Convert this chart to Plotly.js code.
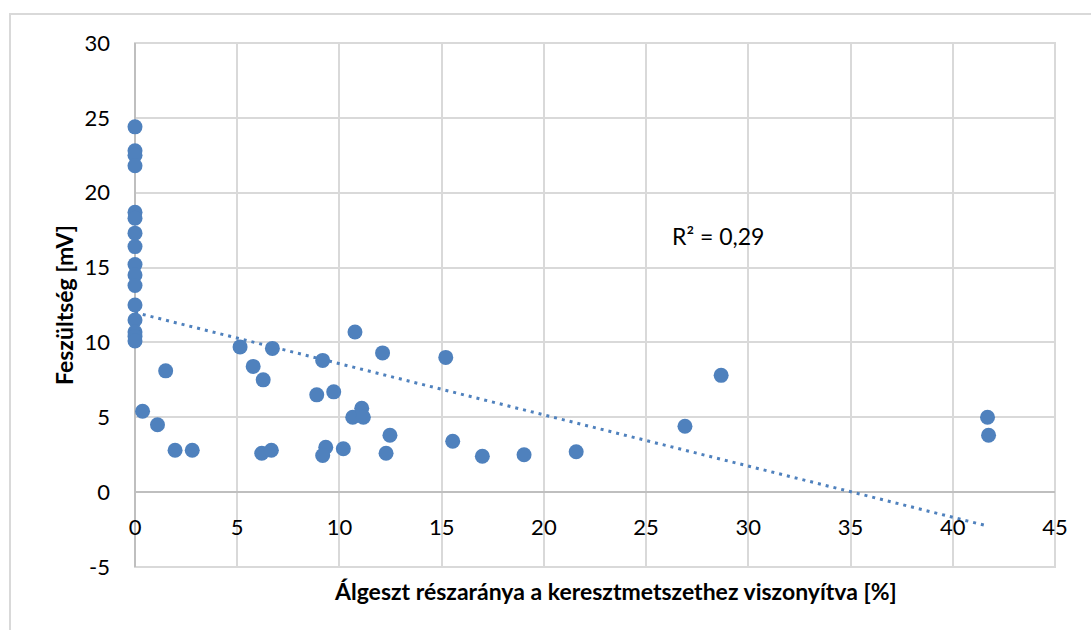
<!DOCTYPE html>
<html>
<head>
<meta charset="utf-8">
<script src="https://cdn.plot.ly/plotly-3.0.1.min.js"></script>
<style>
  html, body { margin: 0; padding: 0; background: #ffffff; }
  #wrap { position: relative; width: 1091px; height: 630px; overflow: hidden; }
  #frame { position: absolute; left: 9px; top: 13px; width: 1100px; height: 640px;
           border-left: 2px solid #d9d9d9; border-top: 2px solid #d9d9d9; pointer-events: none; }
  #chart { position: absolute; left: 0; top: 0; width: 1091px; height: 630px; }
</style>
</head>
<body>
<div id="wrap">
  <div id="chart"></div>
  <div id="frame"></div>
</div>
<script>
// Data
const xValues = [
  0, 0, 0, 0, 0, 0, 0, 0, 0, 0, 0, 0, 0, 0, 0, 0,
  0.37, 1.1, 1.5, 1.96, 2.8, 5.14, 5.78, 6.27, 6.72, 6.2, 6.67,
  8.89, 9.18, 9.72, 9.33, 9.18, 10.19, 10.76, 10.65, 11.09, 11.17,
  12.11, 12.28, 12.47, 15.2, 15.54, 16.99, 19.03, 21.58, 26.9, 28.67,
  41.7, 41.75
];
const yValues = [
  24.4, 22.8, 22.5, 21.8, 18.7, 18.3, 17.3, 16.4, 15.2, 14.5, 13.8, 12.5, 11.5, 10.7, 10.4, 10.1,
  5.4, 4.5, 8.1, 2.8, 2.8, 9.7, 8.4, 7.5, 9.6, 2.6, 2.8,
  6.5, 8.8, 6.7, 3.0, 2.45, 2.9, 10.7, 5.0, 5.6, 5.0,
  9.3, 2.6, 3.8, 9.0, 3.4, 2.4, 2.5, 2.7, 4.4, 7.8,
  5.0, 3.8
];
const trendX = [0, 41.7];
const trendY = [12.0, -2.26];
const xTicks = [0, 5, 10, 15, 20, 25, 30, 35, 40, 45];
const yTicks = [-5, 0, 5, 10, 15, 20, 25, 30];
const xTitle = "Álgeszt részaránya a keresztmetszethez viszonyítva [%]";
const yTitle = "Feszültség [mV]";
const r2Label = "R² = 0,29";

const blue = "#4f81bd";
const font = "Lato, 'Open Sans', sans-serif";

const traces = [
  {
    x: trendX, y: trendY, type: "scatter", mode: "lines",
    line: { color: blue, width: 3, dash: "3px,5px" },
    hoverinfo: "skip", showlegend: false, cliponaxis: false
  },
  {
    x: xValues, y: yValues, type: "scatter", mode: "markers",
    marker: { color: blue, size: 15, line: { width: 0 } },
    hoverinfo: "skip", showlegend: false, cliponaxis: false
  }
];

const plotTop = 43, plotBottom = 567;
const zeroFrac = (plotBottom - 492) / (plotBottom - plotTop);

const layout = {
  width: 1091, height: 630,
  margin: { l: 135, r: 36, t: plotTop, b: 630 - plotBottom, pad: 0 },
  paper_bgcolor: "rgba(0,0,0,0)",
  plot_bgcolor: "#ffffff",
  font: { family: font, size: 22, color: "#000000" },
  showlegend: false,
  xaxis: {
    range: [0, 45], tickvals: xTicks, ticktext: xTicks.map(String),
    showgrid: true, gridcolor: "#d9d9d9", gridwidth: 2,
    zeroline: true, zerolinecolor: "#bfbfbf", zerolinewidth: 2,
    showline: false, ticks: "", anchor: "free", position: zeroFrac,
    ticklabelstandoff: 20,
    tickfont: { family: font, size: 22, color: "#000" },
    fixedrange: true
  },
  yaxis: {
    range: [-5, 30], tickvals: yTicks, ticktext: yTicks.map(String),
    showgrid: true, gridcolor: "#d9d9d9", gridwidth: 2,
    zeroline: true, zerolinecolor: "#bfbfbf", zerolinewidth: 2,
    showline: false, ticks: "",
    ticklabelstandoff: 24,
    tickfont: { family: font, size: 22, color: "#000" },
    fixedrange: true
  },
  shapes: [
    { type: "rect", xref: "paper", yref: "paper", x0: 0, x1: 1, y0: 0, y1: 1,
      line: { color: "#d9d9d9", width: 2 }, layer: "below" }
  ],
  annotations: [
    { text: xTitle, xref: "paper", yref: "paper", x: (615 - 135) / 920, y: -(591 - plotBottom) / (plotBottom - plotTop),
      xanchor: "center", yanchor: "middle", showarrow: false,
      font: { family: font, size: 23, color: "#000", weight: "bold" } },
    { text: yTitle, xref: "paper", yref: "paper", x: (64 - 135) / 920, y: (plotBottom - 305) / (plotBottom - plotTop),
      xanchor: "center", yanchor: "middle", textangle: -90, showarrow: false,
      font: { family: font, size: 23, color: "#000", weight: "bold" } },
    { text: r2Label, xref: "x", yref: "y", x: 28.5, y: 17.1,
      xanchor: "center", yanchor: "middle", showarrow: false,
      font: { family: font, size: 23, color: "#000" } }
  ]
};

Plotly.newPlot("chart", traces, layout, { staticPlot: true, displayModeBar: false });
</script>
</body>
</html>
